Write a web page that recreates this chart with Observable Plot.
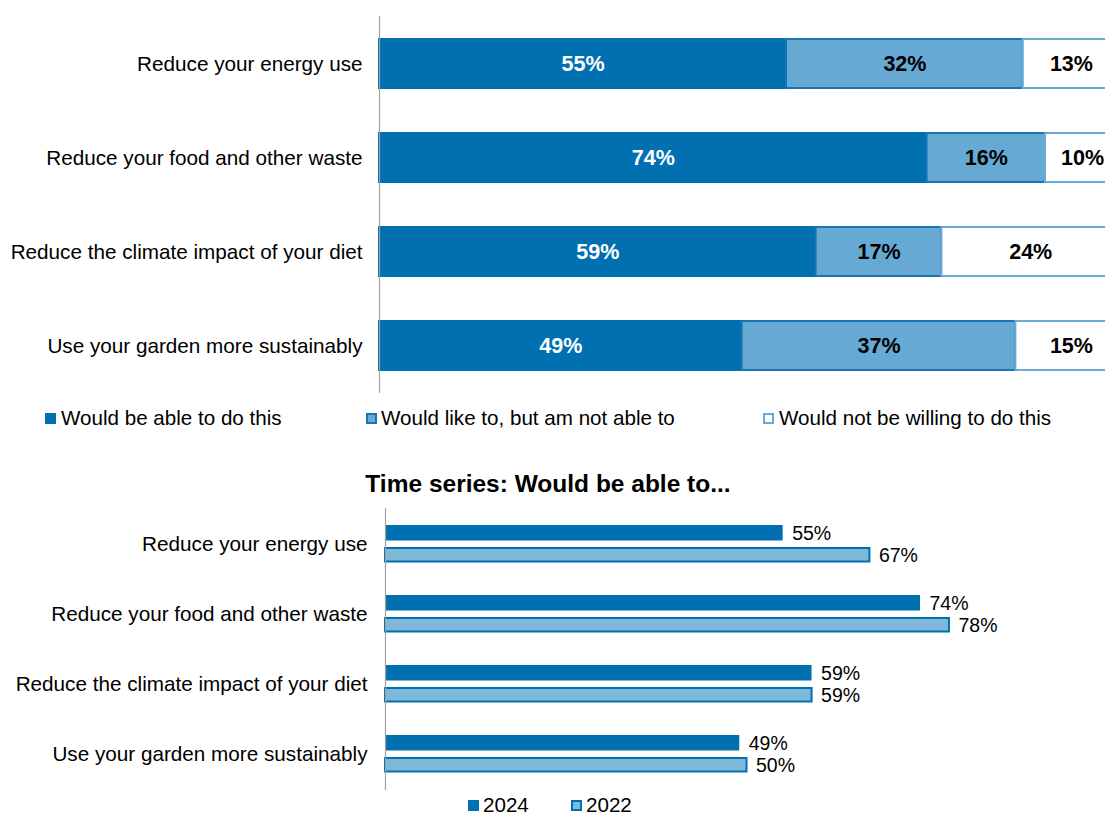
<!DOCTYPE html>
<html>
<head>
<meta charset="utf-8">
<script src="https://cdn.jsdelivr.net/npm/d3@7"></script>
<script src="https://cdn.jsdelivr.net/npm/@observablehq/plot@0.6"></script>
<style>
  html, body { margin: 0; padding: 0; background: #fff; overflow: hidden; }
  body { width: 1105px; height: 814px; position: relative; font-family: "Liberation Sans", Arial, sans-serif; color: #000; }
  .abs { position: absolute; }
  .leg { position: absolute; font-size: 20.6px; line-height: 24px; white-space: nowrap; }
  .sw { position: absolute; width: 7px; height: 7px; }
  #title { position: absolute; left: 0; width: 1096px; text-align: center; font-weight: bold; font-size: 24.5px; line-height: 28px; }
</style>
</head>
<body>
<div id="topChart" class="abs" style="left:0;top:0;"></div>
<div id="legend1"></div>
<div id="title" style="top:470px;">Time series: Would be able to...</div>
<div id="bottomChart" class="abs" style="left:0;top:490px;"></div>
<div id="legend2"></div>
<script>
// ---- Data ----
const categories = [
  "Reduce your energy use",
  "Reduce your food and other waste",
  "Reduce the climate impact of your diet",
  "Use your garden more sustainably"
];
const responses = [
  "Would be able to do this",
  "Would like to, but am not able to",
  "Would not be willing to do this"
];
const ableValues = [55, 74, 59, 49];
const likeNotAbleValues = [32, 16, 17, 37];
const notWillingValues = [13, 10, 24, 15];

const years = ["2024", "2022"];
const values2024 = [55, 74, 59, 49];
const values2022 = [67, 78, 59, 50];

// ---- Styles ----
const DARK = "#0070b0";
const LIGHT = "#66aad4";
const LIGHT2 = "#80b8da";
const FILL = {[responses[0]]: DARK, [responses[1]]: LIGHT, [responses[2]]: "#ffffff"};
const STROKE = {[responses[0]]: DARK, [responses[1]]: "#1a74b4", [responses[2]]: "#6aaad6"};
const FONT = "'Liberation Sans', Arial, sans-serif";

// ---- Top chart (stacked) ----
const seriesVals = [ableValues, likeNotAbleValues, notWillingValues];
const stacked = [];
categories.forEach((c, i) => responses.forEach((r, j) => stacked.push({cat: c, resp: r, value: seriesVals[j][i]})));

const topPlot = Plot.plot({
  width: 1105,
  height: 400,
  marginTop: 16,
  marginBottom: 7,
  marginLeft: 379,
  marginRight: 0,
  style: {fontSize: "20.7px", fontFamily: FONT, background: "transparent", overflow: "visible"},
  x: {domain: [0, 100], range: [379, 1119], axis: null},
  y: {domain: categories, paddingInner: 0.48, paddingOuter: 0.24, tickSize: 0, tickPadding: 17, label: null},
  color: {type: "identity"},
  marks: [
    Plot.barX(stacked, Plot.stackX({
      x: "value", y: "cat", z: "resp",
      fill: d => FILL[d.resp], stroke: d => STROKE[d.resp],
      strokeWidth: 2
    })),
    Plot.text(stacked, Plot.stackX({
      x: "value", y: "cat", z: "resp",
      text: d => d.value + "%",
      fill: d => d.resp === responses[0] ? "white" : "black",
      fontWeight: "bold", fontSize: 21.5
    })),
    Plot.ruleX([0], {stroke: "#a0a0a0", strokeWidth: 1.2})
  ]
});
document.getElementById("topChart").appendChild(topPlot);

// ---- Legend 1 ----
const leg1 = document.getElementById("legend1");
const leg1Pos = [[45, 61], [366, 381], [763, 779]];
const leg1Sw = [
  {bg: DARK, border: DARK},
  {bg: LIGHT, border: "#1a74b4"},
  {bg: "#fff", border: "#6aaad6"}
];
responses.forEach((r, i) => {
  const sw = document.createElement("div");
  sw.className = "sw";
  sw.style.left = leg1Pos[i][0] + "px";
  sw.style.top = "413px";
  sw.style.background = leg1Sw[i].bg;
  sw.style.border = "2px solid " + leg1Sw[i].border;
  leg1.appendChild(sw);
  const t = document.createElement("div");
  t.className = "leg";
  t.style.left = leg1Pos[i][1] + "px";
  t.style.top = "406px";
  t.textContent = r;
  leg1.appendChild(t);
});

// ---- Bottom chart (time series) ----
const ts = [];
categories.forEach((c, i) => {
  ts.push({cat: c, year: years[0], value: values2024[i]});
  ts.push({cat: c, year: years[1], value: values2022[i]});
});
const d24 = ts.filter(d => d.year === years[0]);
const d22 = ts.filter(d => d.year === years[1]);

const bottomPlot = Plot.plot({
  width: 1105,
  height: 300,
  marginTop: 18,
  marginBottom: 0,
  marginLeft: 385,
  marginRight: 0,
  style: {fontSize: "20.7px", fontFamily: FONT, background: "transparent", overflow: "visible"},
  x: {domain: [0, 100], range: [385, 1108], axis: null},
  y: {domain: categories, padding: 0, tickSize: 0, tickPadding: 18, label: null},
  marks: [
    Plot.barX(d24, {x: "value", y: "cat", fill: DARK, insetTop: 16, insetBottom: 38.5}),
    Plot.barX(d22, {x: "value", y: "cat", fill: LIGHT2, stroke: DARK, strokeWidth: 2, insetTop: 39, insetBottom: 17.5}),
    Plot.text(d24, {x: "value", y: "cat", text: d => d.value + "%", dx: 9, dy: -11, textAnchor: "start", fontSize: 19.5}),
    Plot.text(d22, {x: "value", y: "cat", text: d => d.value + "%", dx: 9, dy: 11, textAnchor: "start", fontSize: 19.5}),
    Plot.ruleX([0], {stroke: "#a0a0a0", strokeWidth: 1.2})
  ]
});
document.getElementById("bottomChart").appendChild(bottomPlot);

// ---- Legend 2 ----
const leg2 = document.getElementById("legend2");
const leg2Pos = [[468, 483], [571, 586]];
const leg2Sw = [{bg: DARK, border: DARK}, {bg: LIGHT2, border: DARK}];
years.forEach((y, i) => {
  const sw = document.createElement("div");
  sw.className = "sw";
  sw.style.left = leg2Pos[i][0] + "px";
  sw.style.top = "800px";
  sw.style.background = leg2Sw[i].bg;
  sw.style.border = "2px solid " + leg2Sw[i].border;
  leg2.appendChild(sw);
  const t = document.createElement("div");
  t.className = "leg";
  t.style.left = leg2Pos[i][1] + "px";
  t.style.top = "793px";
  t.textContent = y;
  leg2.appendChild(t);
});
</script>
</body>
</html>
